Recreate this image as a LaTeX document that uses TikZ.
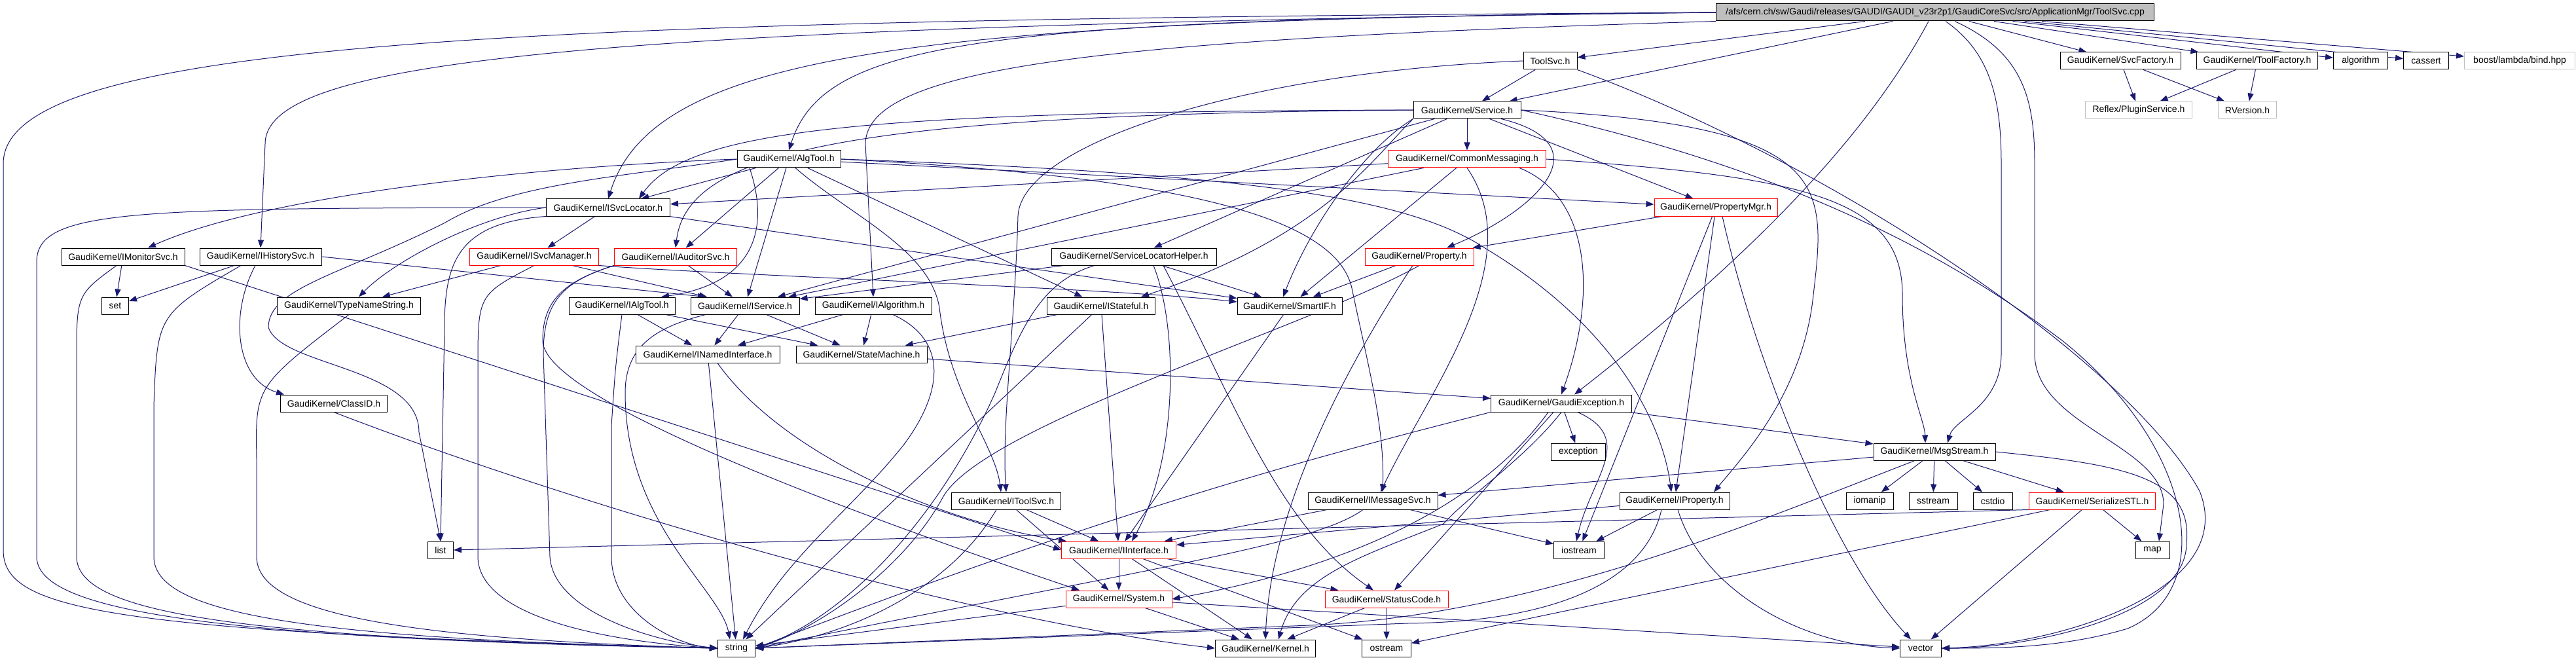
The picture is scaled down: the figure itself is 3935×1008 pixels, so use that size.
\documentclass[tikz,border=0pt]{standalone}
\usepackage{fontspec}
\setmainfont{Liberation Sans}
\usetikzlibrary{arrows.meta,backgrounds}
\definecolor{edgeblue}{RGB}{25,25,112}
\definecolor{boxgray}{RGB}{191,191,191}
\tikzstyle{hdr}=[draw=black,fill=white,line width=1pt,minimum height=26pt,inner sep=0pt]
\tikzstyle{hdrred}=[hdr,draw=red]
\tikzstyle{hdrgray}=[hdr,draw=boxgray]
\tikzstyle{hdrmain}=[hdr,fill=boxgray]
\tikzstyle{inc}=[draw=edgeblue,line width=1pt,-{Triangle[length=12pt,width=9pt]}]

\begin{document}
\begin{tikzpicture}[x=1pt,y=-1pt,font=\fontsize{14}{16}\selectfont]
        \useasboundingbox (0,0) rectangle (3935,1008);
        % rank 0 and 1
        \node[hdrmain,minimum width=669pt] (root) at (2956,19) {/afs/cern.ch/sw/Gaudi/releases/GAUDI/GAUDI\_v23r2p1/GaudiCoreSvc/src/ApplicationMgr/ToolSvc.cpp};
        \node[hdr,minimum width=82pt] (toolsvc) at (2368,93) {ToolSvc.h};
        \node[hdr,minimum width=184pt] (svcfac) at (3239,93) {GaudiKernel/SvcFactory.h};
        \node[hdr,minimum width=185pt] (toolfac) at (3448,93) {GaudiKernel/ToolFactory.h};
        \node[hdr,minimum width=83pt] (algo) at (3606,93) {algorithm};
        \node[hdr,minimum width=69pt] (cassert) at (3706,93) {cassert};
        \node[hdrgray,minimum width=169pt] (boost) at (3849,93) {boost/lambda/bind.hpp};
        % rank 2 to 4
        \node[hdr,minimum width=164pt] (service) at (2241,168) {GaudiKernel/Service.h};
        \node[hdrgray,minimum width=163pt] (plugin) at (3267,168) {Reflex/PluginService.h};
        \node[hdrgray,minimum width=89pt] (rversion) at (3433,168) {RVersion.h};
        \node[hdr,minimum width=158pt] (algtool) at (1205,243) {GaudiKernel/AlgTool.h};
        \node[hdrred,minimum width=241pt] (commonmsg) at (2241,243) {GaudiKernel/CommonMessaging.h};
        \node[hdr,minimum width=189pt] (isvcloc) at (929,317) {GaudiKernel/ISvcLocator.h};
        \node[hdrred,minimum width=188pt] (propmgr) at (2621,317) {GaudiKernel/PropertyMgr.h};
        % rank 5 to 8
        \node[hdr,minimum width=188pt] (imonitor) at (188,392) {GaudiKernel/IMonitorSvc.h};
        \node[hdr,minimum width=186pt] (ihist) at (398,392) {GaudiKernel/IHistorySvc.h};
        \node[hdrred,minimum width=197pt] (isvcman) at (816,392) {GaudiKernel/ISvcManager.h};
        \node[hdrred,minimum width=187pt] (iauditor) at (1032,392) {GaudiKernel/IAuditorSvc.h};
        \node[hdr,minimum width=252pt] (svclochelp) at (1732,392) {GaudiKernel/ServiceLocatorHelper.h};
        \node[hdrred,minimum width=166pt] (property) at (2168,392) {GaudiKernel/Property.h};
        \node[hdr,minimum width=41pt] (set) at (176,467) {set};
        \node[hdr,minimum width=219pt] (typename) at (533,467) {GaudiKernel/TypeNameString.h};
        \node[hdr,minimum width=162pt] (ialgtool) at (950,467) {GaudiKernel/IAlgTool.h};
        \node[hdr,minimum width=166pt] (iservice) at (1138,467) {GaudiKernel/IService.h};
        \node[hdr,minimum width=178pt] (ialgo) at (1334,467) {GaudiKernel/IAlgorithm.h};
        \node[hdr,minimum width=165pt] (istateful) at (1682,467) {GaudiKernel/IStateful.h};
        \node[hdr,minimum width=160pt] (smartif) at (1970,467) {GaudiKernel/SmartIF.h};
        \node[hdr,minimum width=220pt] (inamed) at (1081,541) {GaudiKernel/INamedInterface.h};
        \node[hdr,minimum width=200pt] (statemach) at (1316,541) {GaudiKernel/StateMachine.h};
        \node[hdr,minimum width=163pt] (classid) at (510,616) {GaudiKernel/ClassID.h};
        \node[hdr,minimum width=215pt] (gexc) at (2385,616) {GaudiKernel/GaudiException.h};
        % rank 9 to 13
        \node[hdr,minimum width=83pt] (exception) at (2411,690) {exception};
        \node[hdr,minimum width=186pt] (msgstream) at (2955,690) {GaudiKernel/MsgStream.h};
        \node[hdr,minimum width=167pt] (itoolsvc) at (1537,765) {GaudiKernel/IToolSvc.h};
        \node[hdr,minimum width=198pt] (imsgsvc) at (2097,765) {GaudiKernel/IMessageSvc.h};
        \node[hdr,minimum width=168pt] (iproperty) at (2558,765) {GaudiKernel/IProperty.h};
        \node[hdr,minimum width=72pt] (iomanip) at (2856,765) {iomanip};
        \node[hdr,minimum width=74pt] (sstream) at (2953,765) {sstream};
        \node[hdr,minimum width=60pt] (cstdio) at (3044,765) {cstdio};
        \node[hdrred,minimum width=193pt] (serial) at (3196,765) {GaudiKernel/SerializeSTL.h};
        \node[hdr,minimum width=39pt] (list) at (673,840) {list};
        \node[hdrred,minimum width=175pt] (iinterface) at (1709,840) {GaudiKernel/IInterface.h};
        \node[hdr,minimum width=77pt] (iostream) at (2412,840) {iostream};
        \node[hdr,minimum width=52pt] (map) at (3288,840) {map};
        \node[hdrred,minimum width=162pt] (system) at (1709,915) {GaudiKernel/System.h};
        \node[hdrred,minimum width=188pt] (statuscode) at (2118,915) {GaudiKernel/StatusCode.h};
        \node[hdr,minimum width=57pt] (string) at (1125,990) {string};
        \node[hdr,minimum width=153pt] (kernel) at (1933,990) {GaudiKernel/Kernel.h};
        \node[hdr,minimum width=75pt] (ostream) at (2118,990) {ostream};
        \node[hdr,minimum width=63pt] (vector) at (2934,990) {vector};

        \begin{pgfonlayer}{background}
        % straight includes
        \foreach \a/\b in {root/toolsvc,root/service,root/svcfac,root/toolfac,root/algo,root/cassert,root/boost,
            toolsvc/service,svcfac/plugin,svcfac/rversion,toolfac/plugin,toolfac/rversion,
            service/commonmsg,service/propmgr,service/iservice,service/svclochelp,
            commonmsg/isvcloc,commonmsg/iservice,commonmsg/smartif,
            algtool/isvcloc,algtool/iauditor,algtool/iservice,algtool/istateful,algtool/propmgr,
            isvcloc/isvcman,isvcloc/smartif,
            propmgr/property,propmgr/iproperty,propmgr/iostream,
            imonitor/set,ihist/set,isvcman/typename,isvcman/iservice,iauditor/iservice,
            svclochelp/iservice,svclochelp/smartif,property/smartif,
            ialgtool/inamed,ialgtool/statemach,iservice/inamed,iservice/statemach,ialgo/inamed,ialgo/statemach,
            istateful/statemach,istateful/iinterface,istateful/string,smartif/iinterface,
            inamed/string,statemach/gexc,
            gexc/statuscode,gexc/exception,gexc/msgstream,
            msgstream/imsgsvc,msgstream/iomanip,msgstream/sstream,msgstream/cstdio,msgstream/serial,
            itoolsvc/iinterface,itoolsvc/system,imsgsvc/iinterface,imsgsvc/iostream,
            iproperty/iinterface,iproperty/iostream,
            serial/ostream,serial/vector,serial/map,
            iinterface/system,iinterface/kernel,iinterface/statuscode,iinterface/ostream,
            system/string,system/kernel,system/vector,statuscode/kernel,statuscode/ostream}
            \draw[inc] (\a) -- (\b);
        % routed includes, top part
        \draw[inc] (root.west) .. controls (800,30) and (5,60) .. (5,250) -- (5,840) .. controls (5,930) and (150,965) .. (string.west);
        \draw[inc] (root.west) .. controls (900,40) and (405,90) .. (405,220) -- (ihist.north);
        \draw[inc] (root.west) .. controls (1400,30) and (1000,80) .. (isvcloc.north);
        \draw[inc] (root.west) .. controls (1500,30) and (1260,60) .. (algtool.north);
        \draw[inc] (root.south west) .. controls (1700,60) and (1322,100) .. (1322,220) -- (ialgo.north);
        \draw[inc] ([xshift=-10pt]root.south) .. controls (2830,250) and (2600,450) .. ([xshift=20pt]gexc.north);
        \draw[inc] ([xshift=16pt]root.south) .. controls (3040,80) and (3057,150) .. (3057,250) -- (3057,540) .. controls (3057,620) and (2985,640) .. ([xshift=20pt]msgstream.north);
        \draw[inc] ([xshift=30pt]root.south) .. controls (3090,80) and (3108,150) .. (3108,250) -- (3108,540) .. controls (3108,650) and (3305,680) .. (3305,770) -- ([xshift=10pt]map.north);
        \draw[inc] (toolsvc.west) .. controls (1900,110) and (1560,220) .. (1555,330) .. controls (1550,500) and (1530,650) .. (itoolsvc.north);
        \draw[inc] (toolsvc.south east) .. controls (2800,250) and (3250,550) .. (3360,750) .. controls (3420,900) and (3150,985) .. (vector.east);
        \draw[inc] (service.west) .. controls (1300,170) and (1050,200) .. ([xshift=47pt]isvcloc.north);
        \draw[inc] (service.west) .. controls (1300,175) and (1050,230) .. (iauditor.north);
        \draw[inc] (service.south west) .. controls (2080,230) and (2000,350) .. ([xshift=-10pt]smartif.north);
        \draw[inc] (service.south west) .. controls (2090,250) and (2020,360) .. ([xshift=61pt]istateful.north);
        \draw[inc] ([xshift=52pt]service.south) .. controls (2450,220) and (2350,320) .. ([xshift=42pt]property.north);
        \draw[inc] (service.east) .. controls (2800,190) and (2790,280) .. (2770,450) .. controls (2755,600) and (2660,700) .. ([xshift=60pt]iproperty.north);
        \draw[inc] (service.east) .. controls (2700,250) and (2950,370) .. (3150,520) .. controls (3350,680) and (3390,900) .. (3250,960) .. controls (3150,990) and (3050,990) .. (vector.east);
        \draw[inc] (commonmsg.south) .. controls (2340,400) and (2180,600) .. ([xshift=12pt]imsgsvc.north);
        \draw[inc] ([xshift=80pt]commonmsg.south) .. controls (2430,300) and (2440,450) .. (gexc.north);
        \draw[inc] (commonmsg.east) .. controls (2750,270) and (2906,300) .. (2906,450) .. controls (2906,580) and (2940,640) .. ([xshift=-14pt]msgstream.north);
        \draw[inc] (algtool.west) .. controls (800,255) and (400,300) .. ([xshift=38pt]imonitor.north);
        \draw[inc] (algtool.west) .. controls (950,270) and (780,280) .. (680,340) .. controls (520,420) and (410,440) .. (410,500) .. controls (430,560) and (640,560) .. (640,660) -- (list.north);
        \draw[inc] ([xshift=-60pt]algtool.south) .. controls (1170,330) and (1170,430) .. ([xshift=60pt]ialgtool.north);
        \draw[inc] ([xshift=10pt]algtool.south) .. controls (1300,330) and (1420,380) .. (1435,470) .. controls (1450,600) and (1520,680) .. ([xshift=-8pt]itoolsvc.north);
        \draw[inc] (algtool.east) .. controls (1900,265) and (2150,300) .. (2270,380) .. controls (2470,500) and (2540,650) .. ([xshift=-5pt]iproperty.north);
        \draw[inc] (algtool.east) .. controls (1800,270) and (2040,330) .. (2065,440) .. controls (2090,560) and (2115,650) .. ([xshift=15pt]imsgsvc.north);
        \draw[inc] (propmgr.south) ++(10,0) .. controls (2680,550) and (2800,850) .. ([xshift=-15pt]vector.north);
        % routed includes, middle part
        \draw[inc] (isvcloc.west) .. controls (730,330) and (600,400) .. ([xshift=15pt]typename.north);
        \draw[inc] (isvcloc.south west) .. controls (700,340) and (679,400) .. (679,500) -- (list.north);
        \draw[inc] (isvcloc.west) .. controls (200,318) and (56,320) .. (56,400) -- (56,850) .. controls (56,930) and (300,975) .. (string.west);
        \draw[inc] (imonitor.south east) -- (iinterface.west);
        \draw[inc] ([xshift=-10pt]imonitor.south) .. controls (117,450) .. (117,550) -- (117,850) .. controls (117,935) and (350,975) .. (string.west);
        \draw[inc] ([xshift=-30pt]ihist.south) .. controls (240,480) .. (235,620) -- (235,850) .. controls (235,935) and (450,975) .. (string.west);
        \draw[inc] ([xshift=-8pt]ihist.south) .. controls (350,480) and (360,580) .. ([xshift=-76pt]classid.north);
        \draw[inc] (ihist.east) -- ([xshift=-60pt]iservice.north);
        \draw[inc] (typename.south) .. controls (390,590) .. (392,700) -- (392,850) .. controls (392,935) and (600,975) .. (string.west);
        \draw[inc] (isvcman.south) .. controls (730,450) .. (730,560) -- (730,850) .. controls (730,935) and (900,978) .. (string.west);
        \draw[inc] (isvcman.south east) .. controls (1100,420) and (1700,440) .. ([yshift=6pt]smartif.west);
        \draw[inc] (iauditor.south west) .. controls (860,430) and (830,460) .. (830,540) -- (840,850) .. controls (845,935) and (1000,980) .. (string.west);
        \draw[inc] (iauditor.south west) .. controls (860,430) and (829,460) .. (829,520) .. controls (829,600) and (1200,750) .. ([xshift=-60pt]system.north);
        \draw[inc] (ialgtool.south) .. controls (940,560) .. (934,650) -- (934,850) .. controls (934,935) and (1030,985) .. (string.west);
        \draw[inc] ([xshift=-60pt]iservice.south) .. controls (1000,500) and (955,530) .. (955,600) .. controls (955,800) and (1100,900) .. ([xshift=-10pt]string.north);
        \draw[inc] ([xshift=30pt]ialgo.south) .. controls (1450,520) and (1440,600) .. (1380,680) .. controls (1300,780) and (1200,850) .. ([xshift=10pt]string.north);
        \draw[inc] ([xshift=-60pt]svclochelp.south) .. controls (1590,430) and (1560,500) .. (1520,600) .. controls (1440,780) and (1300,940) .. (string.east);
        \draw[inc] ([xshift=30pt]svclochelp.south) .. controls (1800,500) and (1800,700) .. ([xshift=20pt]iinterface.north);
        \draw[inc] ([xshift=45pt]svclochelp.south) .. controls (1880,600) and (1950,800) .. ([xshift=-20pt]statuscode.north);
        \draw[inc] (property.south) .. controls (2000,500) and (1500,650) .. (1440,760) .. controls (1380,870) and (1250,960) .. (string.east);
        \draw[inc] ([xshift=-10pt]property.south) .. controls (2030,600) and (1940,800) .. (kernel.north);
        \draw[inc] (inamed.south) ++(15,0) .. controls (1200,700) and (1450,800) .. ([xshift=-80pt]iinterface.north);
        \draw[inc] (classid.south) .. controls (900,780) and (1500,950) .. (kernel.west);
        % routed includes, lower part
        \draw[inc] (gexc.south west) .. controls (2000,700) and (1700,780) .. (string.east);
        \draw[inc] ([xshift=-20pt]gexc.south) .. controls (2300,720) and (2150,850) .. (system.east);
        \draw[inc] (gexc.south) .. controls (2330,700) and (2240,760) .. (2205,800) .. controls (2080,850) and (1980,880) .. ([xshift=20pt]kernel.north);
        \draw[inc] ([xshift=25pt]gexc.south) .. controls (2500,670) and (2430,730) .. ([xshift=-4pt]iostream.north);
        \draw[inc] ([xshift=-30pt]msgstream.south) .. controls (2700,790) and (2350,940) .. (2000,955) -- (string.east);
        \draw[inc] (msgstream.east) .. controls (3250,710) and (3350,730) .. (3340,830) .. controls (3340,940) and (3100,990) .. (vector.east);
        \draw[inc] ([xshift=-15pt]itoolsvc.south) .. controls (1450,900) and (1300,970) .. (string.east);
        \draw[inc] ([xshift=-15pt]imsgsvc.south) .. controls (2010,830) and (1800,860) .. (string.east);
        \draw[inc] ([xshift=-20pt]iproperty.south) .. controls (2510,900) and (2350,950) .. (2150,952) -- (string.east);
        \draw[inc] ([xshift=5pt]iproperty.south) .. controls (2600,900) and (2750,985) .. (vector.west);
        \draw[inc] (serial.south west) -- (list.east);
        \end{pgfonlayer}
      \end{tikzpicture}
\end{document}
